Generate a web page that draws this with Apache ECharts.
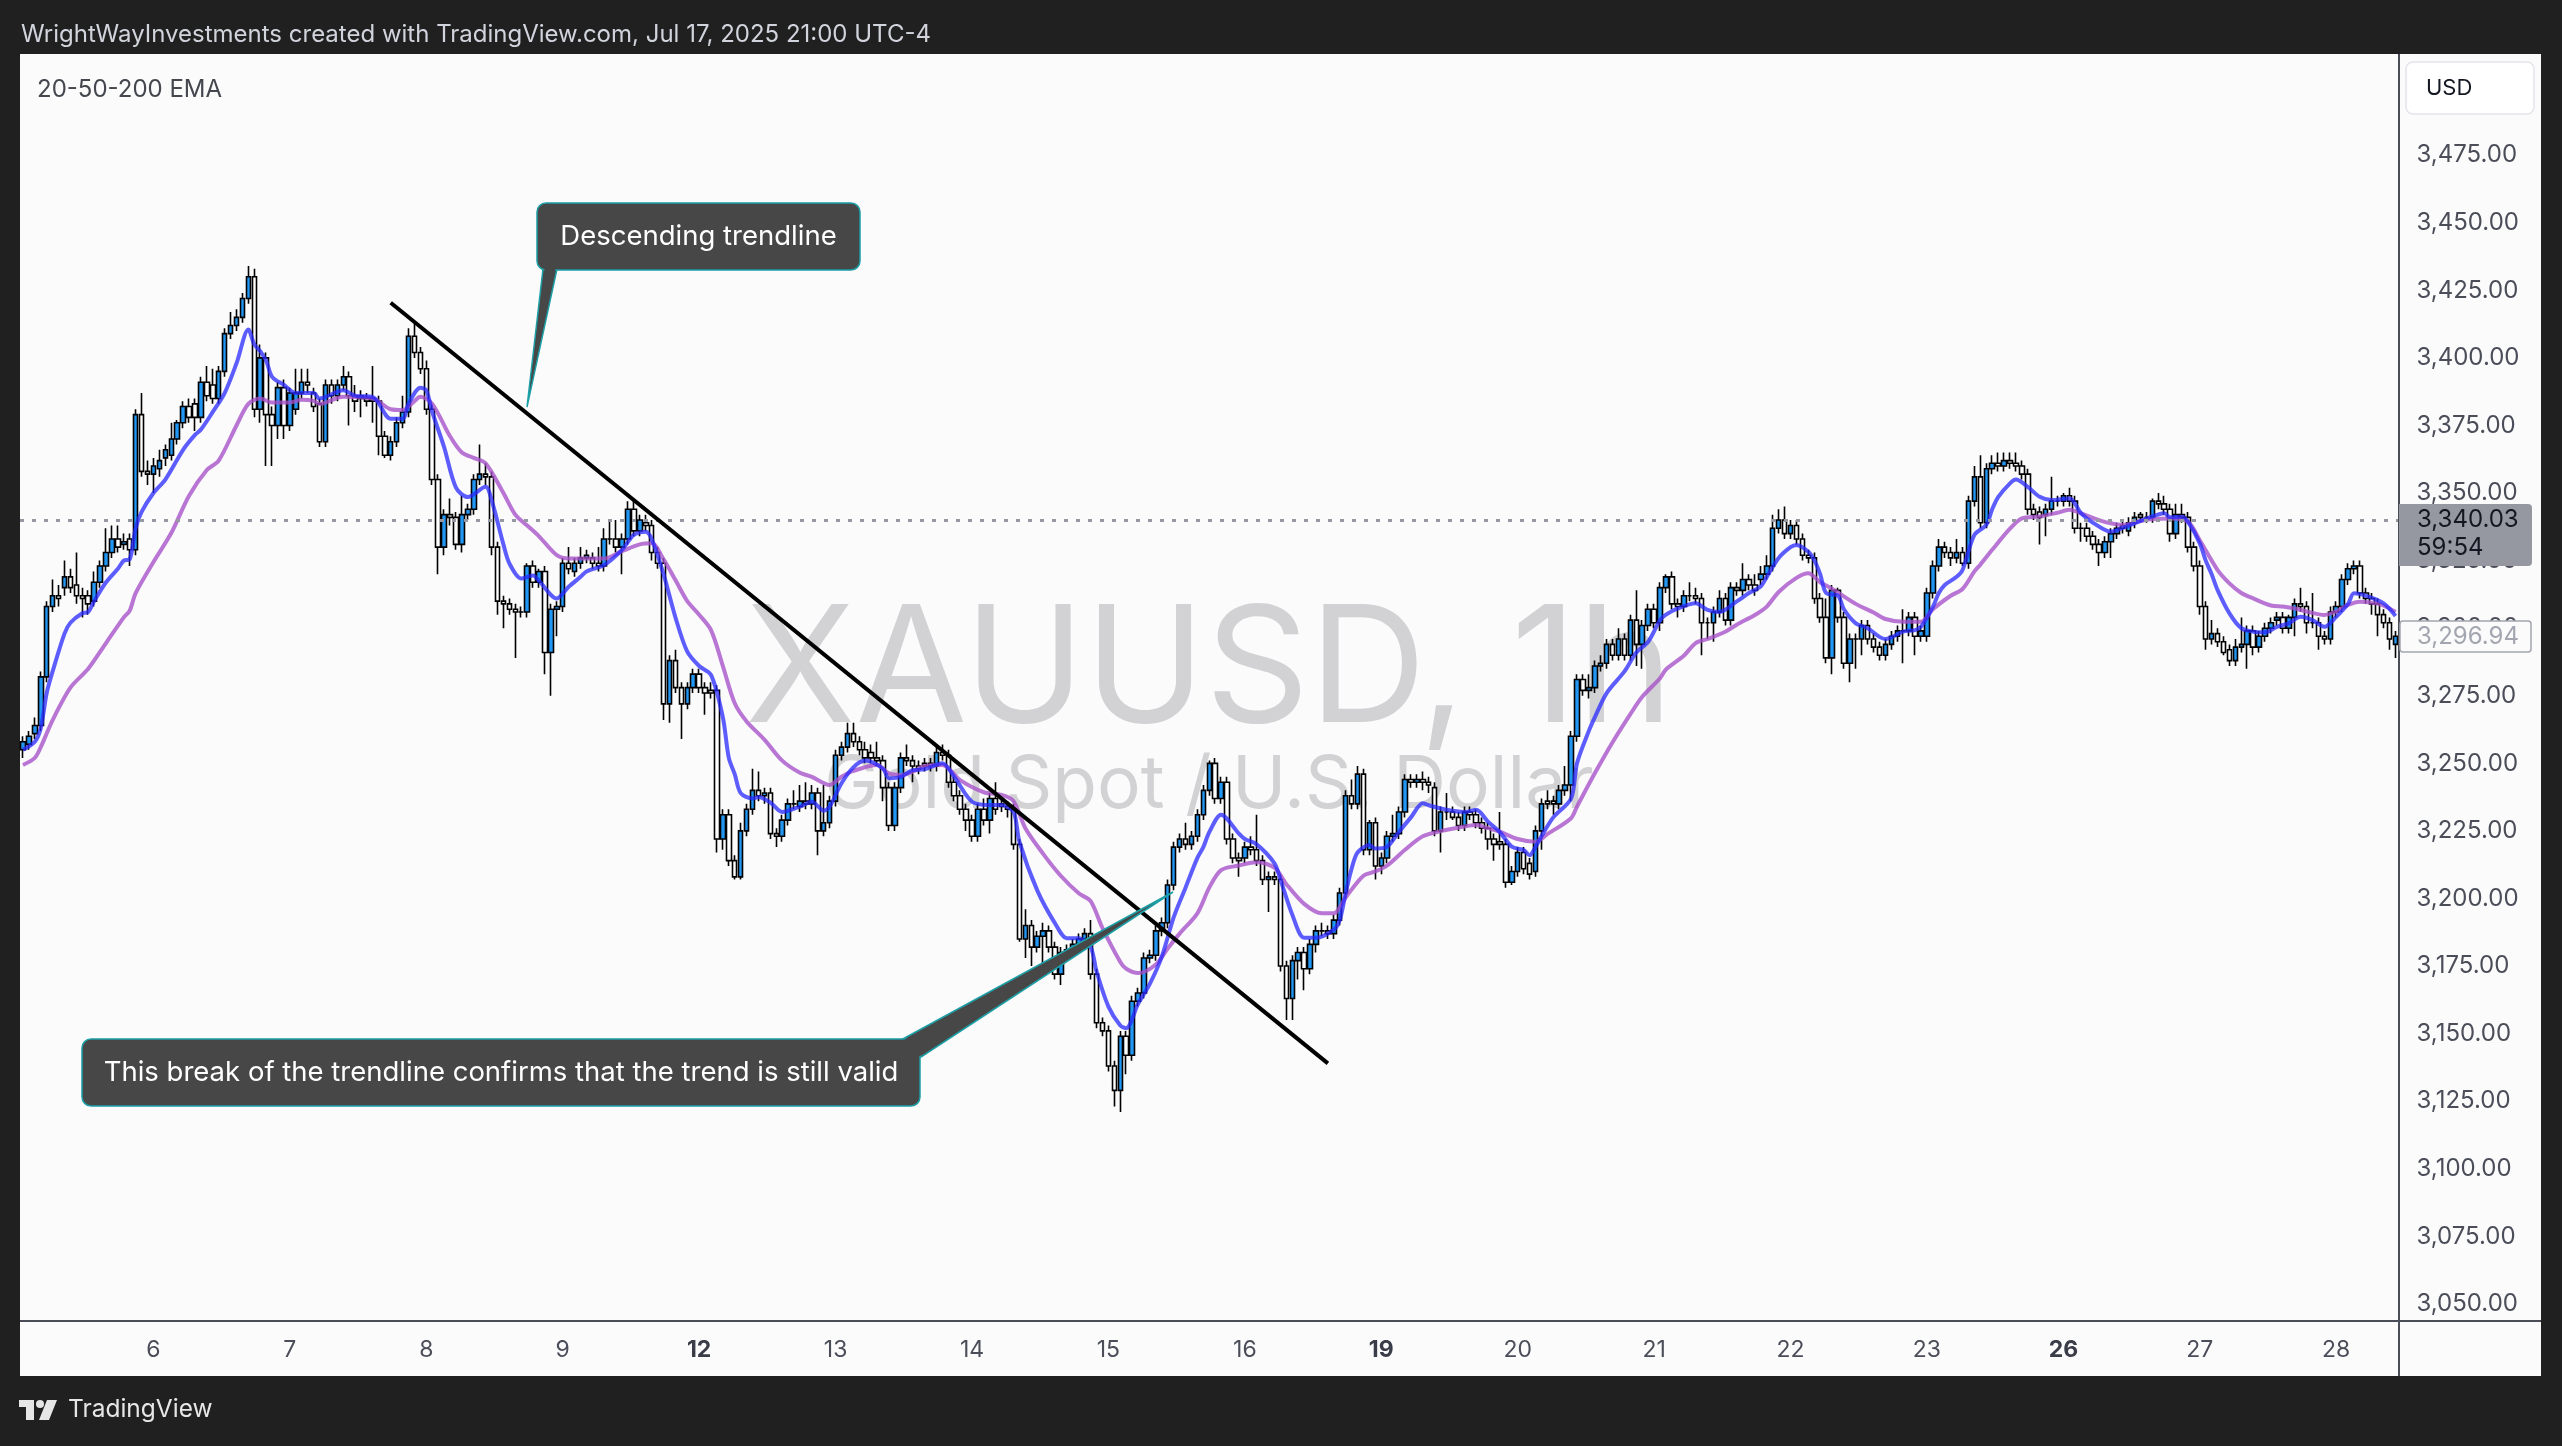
<!DOCTYPE html>
<html><head><meta charset="utf-8">
<script src="https://cdn.jsdelivr.net/npm/echarts@6/dist/echarts.min.js"></script>
<style>html,body{margin:0;padding:0;background:#202020;}#chart{width:2562px;height:1446px;}</style>
</head><body><div id="chart"></div>
<script>
// ---------------- data ----------------
const dayLabels = ['6','7','8','9','12','13','14','15','16','19','20','21','22','23','26','27','28'];
const boldDays = ['12','19','26'];
const firstBar = -22;      // index of first bar relative to the "6" label bar
const barsPerDay = 23;
const priceTicks = [3050,3075,3100,3125,3150,3175,3200,3225,3250,3275,3300,3325,3350,3375,3400,3425,3450,3475];
const lastPrice = 3340.03;
const countdown = '59:54';
const markedPrice = 3296.94;

// hourly candles [open, close, low, high]
const ohlc = [
// May 5
[3255,3258,3252,3260],[3257,3260,3255,3262],[3261,3264,3259,3267],[3264,3282,3262,3284],[3282,3308,3280,3310],[3308,3312,3306,3318],[3312,3311,3308,3316],[3315,3319,3312,3325],[3319,3315,3313,3322],[3316,3312,3309,3328],[3312,3311,3304,3315],[3312,3309,3305,3314],[3310,3317,3308,3321],[3317,3323,3315,3325],[3323,3328,3321,3337],[3328,3333,3326,3338],[3333,3330,3328,3338],[3331,3332,3329,3335],[3333,3329,3323,3335],[3329,3379,3327,3381],[3379,3358,3356,3387],[3358,3357,3353,3362],
// May 6
[3357,3360,3350,3363],[3359,3362,3356,3366],[3363,3366,3360,3368],[3364,3370,3362,3376],[3370,3376,3368,3377],[3376,3382,3374,3384],[3382,3378,3376,3385],[3383,3378,3373,3385],[3378,3391,3376,3393],[3391,3386,3384,3397],[3390,3385,3383,3396],[3385,3395,3383,3397],[3395,3409,3393,3411],[3409,3412,3407,3417],[3412,3415,3410,3418],[3415,3422,3413,3424],[3422,3430,3420,3434],[3430,3381,3378,3433],[3381,3400,3376,3405],[3400,3379,3360,3402],[3379,3375,3360,3382],[3375,3389,3370,3391],[3389,3375,3370,3392],
// May 7
[3375,3387,3373,3389],[3381,3387,3379,3396],[3387,3391,3385,3396],[3391,3390,3387,3396],[3387,3382,3380,3389],[3383,3369,3367,3385],[3369,3390,3367,3392],[3390,3386,3383,3392],[3386,3390,3384,3392],[3390,3393,3388,3397],[3393,3386,3375,3395],[3386,3384,3380,3390],[3385,3386,3378,3388],[3385,3384,3382,3387],[3384,3385,3376,3397],[3384,3371,3364,3386],[3371,3364,3363,3373],[3364,3369,3362,3371],[3369,3376,3367,3378],[3376,3380,3374,3386],[3380,3408,3378,3411],[3408,3402,3400,3413],[3402,3396,3394,3404],
// May 8
[3396,3381,3379,3399],[3381,3355,3353,3383],[3355,3330,3320,3357],[3330,3342,3327,3344],[3342,3341,3338,3348],[3341,3331,3329,3343],[3331,3342,3328,3349],[3342,3344,3340,3346],[3344,3355,3342,3357],[3355,3357,3353,3368],[3357,3356,3353,3361],[3356,3330,3327,3358],[3330,3310,3305,3332],[3310,3309,3300,3312],[3309,3307,3305,3311],[3307,3306,3289,3309],[3306,3306,3304,3308],[3306,3323,3304,3324],[3323,3317,3315,3325],[3317,3321,3315,3322],[3321,3291,3283,3323],[3291,3307,3275,3309],[3307,3308,3297,3310],
// May 9
[3308,3324,3306,3326],[3324,3322,3320,3330],[3321,3324,3319,3326],[3324,3326,3322,3330],[3326,3327,3324,3329],[3326,3324,3322,3328],[3324,3323,3321,3330],[3323,3333,3321,3337],[3333,3333,3331,3340],[3333,3330,3328,3340],[3330,3333,3320,3335],[3333,3344,3331,3347],[3344,3336,3334,3348],[3336,3340,3334,3342],[3339,3338,3336,3342],[3338,3328,3325,3340],[3328,3324,3322,3330],[3324,3272,3266,3326],[3272,3288,3265,3290],[3288,3278,3276,3292],[3278,3272,3259,3280],[3272,3278,3270,3280],[3278,3283,3276,3285],
// May 12
[3283,3278,3276,3285],[3278,3276,3268,3280],[3277,3276,3274,3280],[3277,3222,3217,3279],[3222,3231,3218,3233],[3231,3214,3212,3233],[3214,3208,3207,3216],[3208,3225,3207,3228],[3225,3233,3223,3235],[3233,3240,3231,3248],[3240,3238,3236,3247],[3238,3239,3235,3241],[3239,3224,3222,3241],[3224,3223,3219,3226],[3223,3229,3221,3231],[3229,3235,3227,3237],[3235,3235,3233,3240],[3234,3236,3232,3242],[3236,3235,3233,3243],[3235,3239,3233,3242],[3239,3225,3216,3241],[3225,3228,3223,3242],[3228,3236,3226,3238],
// May 13
[3236,3253,3234,3255],[3253,3256,3251,3258],[3256,3261,3254,3265],[3261,3258,3256,3265],[3258,3255,3253,3260],[3255,3252,3250,3258],[3254,3252,3250,3257],[3252,3251,3249,3258],[3251,3241,3236,3253],[3241,3227,3225,3243],[3227,3241,3225,3243],[3241,3252,3239,3254],[3252,3251,3249,3257],[3251,3249,3243,3253],[3249,3248,3246,3251],[3250,3249,3247,3252],[3250,3249,3247,3252],[3249,3254,3247,3256],[3254,3253,3251,3257],[3253,3243,3241,3255],[3243,3238,3236,3245],[3238,3233,3231,3240],[3233,3229,3225,3235],
// May 14
[3229,3223,3221,3231],[3223,3233,3221,3235],[3233,3229,3227,3237],[3229,3237,3224,3239],[3237,3233,3231,3243],[3235,3234,3232,3237],[3234,3233,3230,3236],[3233,3220,3218,3235],[3220,3185,3184,3222],[3185,3190,3178,3196],[3190,3182,3175,3192],[3182,3186,3180,3188],[3186,3188,3176,3191],[3188,3182,3180,3190],[3182,3172,3170,3184],[3172,3180,3168,3182],[3180,3181,3178,3183],[3181,3183,3179,3185],[3183,3185,3181,3187],[3185,3187,3183,3189],[3187,3172,3170,3192],[3172,3154,3152,3174],[3154,3151,3149,3156],
// May 15
[3151,3138,3136,3153],[3138,3129,3123,3140],[3129,3149,3121,3151],[3149,3142,3135,3151],[3142,3162,3140,3164],[3162,3165,3160,3167],[3165,3178,3163,3180],[3178,3179,3176,3181],[3179,3188,3177,3190],[3188,3191,3186,3193],[3191,3205,3189,3207],[3205,3219,3203,3221],[3219,3222,3217,3224],[3222,3220,3218,3228],[3220,3223,3218,3225],[3223,3231,3221,3233],[3231,3240,3229,3242],[3240,3250,3238,3251],[3250,3237,3235,3252],[3237,3243,3235,3245],[3243,3222,3220,3245],[3222,3215,3213,3224],[3215,3214,3208,3217],
// May 16
[3215,3219,3213,3221],[3219,3218,3216,3223],[3218,3214,3212,3231],[3214,3207,3205,3216],[3207,3208,3195,3210],[3208,3207,3205,3210],[3207,3175,3173,3209],[3175,3163,3155,3177],[3163,3177,3155,3179],[3177,3180,3170,3182],[3180,3174,3166,3182],[3174,3183,3172,3185],[3183,3188,3180,3190],[3188,3188,3186,3191],[3188,3187,3185,3190],[3187,3192,3185,3194],[3192,3202,3190,3204],[3202,3238,3200,3240],[3238,3235,3233,3244],[3235,3246,3233,3249],[3246,3218,3216,3248],[3218,3228,3216,3229],[3228,3212,3207,3230],
// May 19
[3212,3215,3209,3217],[3215,3223,3213,3225],[3223,3224,3221,3231],[3224,3232,3222,3234],[3232,3244,3230,3246],[3244,3243,3241,3246],[3243,3244,3241,3246],[3244,3243,3240,3247],[3243,3242,3239,3245],[3241,3225,3223,3243],[3225,3232,3217,3234],[3232,3232,3229,3239],[3232,3230,3229,3234],[3230,3227,3225,3232],[3227,3232,3225,3234],[3232,3231,3229,3234],[3231,3228,3226,3233],[3228,3226,3224,3230],[3226,3222,3218,3228],[3222,3220,3214,3224],[3221,3220,3218,3232],[3220,3206,3204,3222],[3206,3210,3205,3212],
// May 20
[3210,3217,3208,3219],[3217,3211,3209,3219],[3213,3209,3207,3215],[3210,3225,3208,3227],[3225,3235,3218,3237],[3236,3235,3233,3240],[3236,3235,3231,3238],[3235,3240,3233,3242],[3240,3242,3238,3249],[3242,3260,3236,3262],[3260,3281,3258,3283],[3281,3277,3275,3283],[3277,3278,3274,3283],[3278,3286,3276,3288],[3286,3287,3284,3290],[3287,3294,3285,3296],[3294,3290,3288,3296],[3290,3296,3288,3300],[3296,3290,3288,3298],[3290,3303,3288,3305],[3303,3294,3286,3314],[3294,3301,3285,3303],[3301,3307,3299,3309],
// May 21
[3307,3302,3300,3309],[3302,3315,3299,3317],[3315,3319,3313,3320],[3319,3309,3307,3321],[3309,3308,3304,3311],[3308,3312,3306,3314],[3312,3312,3310,3317],[3312,3311,3309,3315],[3311,3302,3290,3313],[3302,3302,3296,3304],[3302,3306,3295,3308],[3306,3311,3304,3314],[3311,3303,3301,3313],[3303,3315,3301,3317],[3315,3314,3312,3317],[3314,3318,3312,3324],[3318,3316,3314,3320],[3316,3314,3312,3320],[3318,3320,3316,3323],[3320,3323,3318,3327],[3323,3337,3321,3342],[3337,3340,3335,3344],[3340,3335,3333,3345],
// May 22
[3335,3338,3333,3340],[3338,3333,3331,3340],[3333,3327,3325,3335],[3327,3326,3324,3329],[3326,3311,3309,3328],[3311,3304,3302,3313],[3304,3289,3287,3311],[3289,3314,3283,3316],[3314,3304,3302,3315],[3304,3287,3285,3306],[3287,3296,3280,3298],[3296,3296,3285,3298],[3296,3301,3290,3303],[3301,3296,3294,3303],[3296,3293,3291,3298],[3293,3290,3288,3295],[3290,3294,3288,3296],[3294,3297,3292,3299],[3297,3299,3295,3301],[3299,3299,3287,3307],[3299,3304,3297,3306],[3304,3297,3290,3306],[3297,3299,3295,3301],
// May 23
[3297,3313,3295,3315],[3313,3323,3311,3325],[3323,3330,3321,3333],[3330,3328,3326,3332],[3328,3326,3323,3330],[3326,3328,3324,3333],[3328,3324,3323,3330],[3324,3347,3322,3349],[3347,3356,3345,3360],[3356,3339,3337,3364],[3339,3359,3337,3361],[3359,3361,3357,3364],[3361,3360,3358,3365],[3360,3362,3358,3365],[3362,3361,3359,3365],[3361,3360,3358,3365],[3360,3357,3355,3362],[3357,3344,3342,3359],[3344,3342,3340,3346],[3343,3341,3331,3345],[3342,3344,3334,3346],[3344,3347,3342,3356],[3347,3347,3345,3349],
// May 26
[3347,3349,3345,3350],[3349,3347,3345,3352],[3347,3337,3335,3349],[3337,3337,3332,3339],[3337,3334,3332,3339],[3334,3331,3329,3336],[3331,3328,3323,3333],[3328,3332,3326,3334],[3332,3335,3326,3337],[3335,3337,3333,3339],[3338,3337,3335,3340],[3336,3339,3334,3341],[3339,3341,3337,3343],[3342,3341,3339,3343],[3341,3341,3339,3343],[3341,3347,3339,3348],[3347,3346,3344,3350],[3346,3344,3342,3349],[3344,3335,3332,3346],[3335,3342,3333,3346],[3342,3341,3339,3346],[3341,3330,3328,3343],[3330,3323,3321,3332],
// May 27
[3323,3308,3305,3325],[3308,3296,3292,3310],[3296,3298,3294,3303],[3298,3295,3293,3300],[3295,3291,3290,3297],[3292,3288,3286,3294],[3288,3293,3286,3296],[3293,3294,3291,3304],[3294,3299,3285,3301],[3299,3293,3290,3301],[3293,3297,3291,3299],[3297,3300,3295,3302],[3300,3302,3298,3304],[3303,3304,3301,3306],[3304,3300,3298,3306],[3300,3304,3298,3305],[3304,3309,3297,3311],[3309,3308,3306,3315],[3308,3302,3298,3310],[3302,3302,3300,3313],[3302,3297,3292,3304],[3297,3296,3294,3299],[3296,3306,3294,3308],
// May 28
[3306,3308,3304,3310],[3308,3318,3306,3320],[3318,3322,3316,3324],[3322,3323,3320,3325],[3323,3313,3311,3325],[3313,3311,3309,3315],[3311,3309,3305,3313],[3309,3305,3297,3311],[3305,3302,3300,3307],[3302,3296,3292,3304],[3294,3297,3289,3299]
];

// EMA readings [bar index relative to "6" label, value]
const ema20 = [
[-22,3255],[-20,3258],[-19,3263],[-18,3276],[-17,3284],[-15,3298],[-14,3302],[-12,3305.5],[-11,3306],[-10,3310],[-8,3317],[-6,3322],[-5,3325],[-4,3325.5],[-3,3337],[-2,3343],[0,3350],[2,3355],[5,3366],[7,3371.5],[8,3373.5],[10,3380],[12,3387],[14,3398],[16,3410.5],[17,3405],[18,3402.5],[19,3399],[20,3393],[22,3390],[24,3387],[27,3387],[28,3385],
[32,3388],[34,3386],[37,3385.5],[40,3377.5],[42,3377.5],[43,3383],[45,3389],[46,3388],[47,3380],[49,3367],[51,3352],[53,3348.5],[56,3352.3],[57,3347.5],[59,3331],[60,3324],[62,3318.4],[64,3319.5],[65,3317.5],[68,3311],[70,3315.3],[72,3319],[73,3321],[76,3323.4],[79,3329],
[81,3334.5],[83,3335.7],[84,3333],[86,3320],[88,3304],[90,3291.3],[92,3286],[94,3282.7],[96,3267],[97,3252],[98,3246],[99,3239],[101,3237],[102,3237.5],[104,3235.5],[106,3232],[109,3234],[111,3235.8],[113,3232.5],[114,3234],[116,3242.6],[118,3248.5],[120,3251],[123,3248],[124,3244.5],[126,3245],[128,3247.5],
[130,3247.8],[133,3250],[135,3245],[138,3235.8],[141,3234.6],[143,3234.6],[145,3232],[146,3221],[149,3203],[152,3190.8],[154,3185.3],[156,3185.3],[158,3182],[159,3173],[161,3160],[163,3153],[164,3152],[166,3161],[168,3168.5],[170,3178.5],[172,3193],[174,3204],[176,3215],[177,3219],[178,3224.5],[180,3231],
[183,3224],[184,3222],[186,3220],[189,3213],[190,3207],[192,3194],[194,3185.5],[196,3185.5],[199,3188.5],[200,3192],[201,3202],[202,3211],[203,3217],[205,3219.8],[206,3218.5],[208,3219.2],[210,3224.7],[212,3230],[214,3235.2],[215,3234.5],[218,3232.8],[221,3232],[223,3232.8],[225,3228.4],[227,3224.5],[229,3219.2],[231,3217.9],
[232,3216],[233,3219],[234,3223],[236,3230],[239,3237],[240,3250],[242,3262],[243,3267],[245,3276],[248,3284],[250,3291],[252,3295],[254,3303],[255,3305],[257,3307.3],[260,3309.2],[262,3306.8],[264,3306],[267,3310],[269,3313],[271,3315.5],[272,3319],[274,3326],[276,3330],[277,3330.8],[279,3328.3],[280,3325.2],[281,3320],
[282,3313],[284,3312],[285,3307],[287,3301.8],[289,3300],[291,3296.8],[292,3296],[295,3298.7],[297,3299.3],[298,3300.5],[300,3307.9],[301,3313],[302,3316],[304,3319],[305,3321.5],[307,3334.5],[309,3338.2],[310,3344],[311,3348.5],[313,3353.6],[314,3355],[316,3352.3],[318,3348.6],[320,3347.4],[323,3348],[325,3342.5],[327,3339],[330,3335.7],[331,3336.3],
[334,3338.8],[336,3340.5],[339,3342.5],[340,3341],[342,3341.2],[343,3339.4],[345,3331.4],[346,3325],[347,3320],[348,3314.1],[350,3305.5],[352,3300],[354,3298.7],[356,3298.5],[358,3300.5],[360,3301.8],[362,3304.2],[364,3303],[366,3300.5],[368,3304.2],[370,3309],[371,3312.9],[373,3312],[376,3309.2],[378,3304.5]
];
const ema50 = [
[-22,3249.4],[-20,3252],[-19,3256],[-17,3266],[-14,3278],[-11,3285],[-8,3294.5],[-5,3304],[-4,3306.5],[-3,3313],[0,3324.5],[3,3335.2],[6,3349],[9,3358.5],[11,3362],[14,3375],[16,3383],[18,3385],[20,3383.5],[23,3383.5],[25,3384.5],[27,3384.1],[28,3383],
[32,3385.6],[37,3385],[40,3381],[42,3380.7],[44,3384],[45,3385.6],[47,3383],[50,3371],[52,3365],[54,3363],[56,3361],[59,3350],[61,3342],[63,3338],[65,3334],[68,3327],[70,3325.8],[73,3325.8],[76,3325.8],[79,3328.5],
[82,3331],[84,3331.4],[86,3325.5],[88,3317.8],[90,3310],[92,3305],[94,3299.3],[96,3286],[98,3272.2],[100,3265.5],[103,3258.8],[106,3251],[109,3246.5],[111,3245],[114,3242],[116,3245],[118,3247.2],[122,3249.4],[124,3246.3],[126,3245.7],[128,3246.9],
[130,3249],[133,3249.4],[136,3243.8],[140,3239.3],[143,3238.3],[145,3236],[147,3226],[150,3216.5],[153,3208.3],[156,3201.9],[158,3199],[160,3189],[163,3176.5],[164,3174],[166,3172.4],[169,3175.6],[171,3181.5],[173,3187],[176,3194.5],[178,3204],[180,3210.5],
[183,3212.2],[186,3213.4],[189,3211.4],[191,3205.3],[194,3198],[197,3194.5],[199,3194.5],[201,3200.4],[204,3208.4],[206,3210],[208,3212.2],[211,3218],[214,3223],[217,3224.9],[219,3225.8],[223,3227.2],[225,3226],[227,3224.7],[230,3222],
[233,3221],[235,3223.8],[239,3229.7],[240,3234],[243,3246.3],[246,3257.8],[249,3268.2],[251,3274.6],[254,3281.5],[255,3284.7],[258,3289.8],[260,3294.5],[262,3296],[265,3298.7],[267,3301.4],[270,3304.9],[272,3308],[274,3313.4],[277,3318.6],[279,3320.3],[281,3317],
[283,3314.6],[287,3309],[290,3305.8],[292,3303.4],[295,3302.4],[298,3302.4],[300,3307],[303,3312],[305,3314.5],[307,3321],[308,3323.5],[310,3329],[313,3336.8],[315,3340.6],[318,3341.3],[321,3342.7],[323,3343.8],[326,3341.6],[328,3340],[330,3338.8],[332,3338.2],
[335,3339.6],[337,3340.4],[340,3340.6],[343,3339.4],[345,3332.5],[348,3321.5],[350,3316.6],[352,3313],[354,3311],[357,3308.4],[359,3308],[361,3307.3],[363,3306.2],[366,3304.9],[368,3306.2],[370,3308.6],[372,3309.8],[375,3309.1],[377,3307.3],[378,3306]
];
// descending trendline endpoints [bar index, price]
const trendline = [[40,3420.4],[198,3139]];

// ---------------- chart ----------------
const FONT = 'Inter, "Noto Sans", Roboto, sans-serif';
const chart = echarts.init(document.getElementById('chart'), null, {width: 2562, height: 1446});
const categories = ohlc.map((_, j) => String(j + firstBar));
const toJ = pts => pts.map(([i, v]) => [i - firstBar, v]);
const fmt = v => v.toLocaleString('en-US', {minimumFractionDigits: 2, maximumFractionDigits: 2});
const isDayStart = j => { const i = j + firstBar; return i >= 0 && i % barsPerDay === 0; };

const FILL = '#474747', EDGE = '#1d9fa6';
function callout(box, tail, text, fs) {
  const [x, y, w, h] = box;
  const [b1, b2, tip] = tail;
  const mx = (b1[0] + b2[0]) / 2, my = (b1[1] + b2[1]) / 2;
  const shrink = (p, t) => [p[0] + (mx - p[0]) * t, p[1] + (my - p[1]) * t];
  const ux = (b2[0] - b1[0]), uy = (b2[1] - b1[1]), L = Math.hypot(ux, uy);
  const p1 = [b1[0] + ux / L * 1.6, b1[1] + uy / L * 1.6], p2 = [b2[0] - ux / L * 1.6, b2[1] - uy / L * 1.6];
  return [
    {type: 'polygon', z: 20, silent: true, shape: {points: [b1, b2, tip]}, style: {fill: FILL, stroke: EDGE, lineWidth: 1.5}},
    {type: 'rect', z: 21, silent: true, shape: {x, y, width: w, height: h, r: 9}, style: {fill: FILL, stroke: EDGE, lineWidth: 1.5}},
    {type: 'polygon', z: 22, silent: true, shape: {points: [p1, p2, shrink(tip, 0.12)]}, style: {fill: FILL}},
    {type: 'text', z: 23, silent: true, x: x + w / 2, y: y + h / 2, style: {text, fill: '#ffffff', font: fs + 'px ' + FONT, align: 'center', verticalAlign: 'middle'}}
  ];
}

const staticGraphic = [
  {type: 'rect', z: -10, silent: true, shape: {x: 20, y: 54, width: 2521, height: 1322}, style: {fill: '#fbfbfc'}},
  {type: 'text', z: -5, silent: true, x: 1209, y: 673, style: {text: 'XAUUSD, 1h', fill: '#d2d2d4', font: '162px ' + FONT, align: 'center', verticalAlign: 'middle'}},
  {type: 'text', z: -5, silent: true, x: 1209, y: 786, style: {text: 'Gold Spot / U.S. Dollar', fill: '#d2d2d4', font: '73px ' + FONT, align: 'center', verticalAlign: 'middle'}},
  {type: 'line', z: 8, silent: true, shape: {x1: 2399, y1: 54, x2: 2399, y2: 1376}, style: {stroke: '#4a4d57', lineWidth: 2}},
  {type: 'line', z: 8, silent: true, shape: {x1: 20, y1: 1321, x2: 2541, y2: 1321}, style: {stroke: '#4a4d57', lineWidth: 2}},
  {type: 'text', silent: true, x: 21, y: 35, style: {text: 'WrightWayInvestments created with TradingView.com, Jul 17, 2025 21:00 UTC-4', fill: '#d1d4dc', font: '24px ' + FONT, verticalAlign: 'middle'}},
  {type: 'text', silent: true, x: 37, y: 90, style: {text: '20-50-200 EMA', fill: '#45474f', font: '24px ' + FONT, verticalAlign: 'middle'}},
  {type: 'rect', z: 9, silent: true, shape: {x: 2406, y: 62, width: 128, height: 52, r: 7}, style: {fill: '#ffffff', stroke: '#e3e5ea', lineWidth: 1.5}},
  {type: 'text', z: 10, silent: true, x: 2426, y: 88, style: {text: 'USD', fill: '#131722', font: '22px ' + FONT, verticalAlign: 'middle'}},
  // TradingView logo + name
  {type: 'rect', silent: true, shape: {x: 19, y: 1400, width: 15, height: 7}, style: {fill: '#e6e6e6'}},
  {type: 'rect', silent: true, shape: {x: 26, y: 1400, width: 8, height: 20}, style: {fill: '#e6e6e6'}},
  {type: 'circle', silent: true, shape: {cx: 40, cy: 1404, r: 4}, style: {fill: '#e6e6e6'}},
  {type: 'polygon', silent: true, shape: {points: [[47, 1400], [57, 1400], [49, 1420], [39, 1420]]}, style: {fill: '#e6e6e6'}},
  {type: 'text', silent: true, x: 68, y: 1410, style: {text: 'TradingView', fill: '#e6e6e6', font: '24.5px ' + FONT, verticalAlign: 'middle'}},
  ...callout([537, 203, 323, 67], [[543, 269], [557, 269], [527, 407]], 'Descending trendline', 27.5),
  ...callout([82, 1039, 838, 67], [[901, 1040], [921, 1057], [1173, 892]], 'This break of the trendline confirms that the trend is still valid', 27.5)
];

const option = {
  backgroundColor: '#202020',
  animation: false,
  grid: {left: 20, right: 163.5, top: 54, bottom: 125},
  xAxis: {
    type: 'category', data: categories, boundaryGap: true,
    axisLine: {show: false}, axisTick: {show: false}, splitLine: {show: false},
    axisLabel: {
      interval: (idx) => isDayStart(idx),
      formatter: (val) => { const lbl = dayLabels[Number(val) / barsPerDay]; return boldDays.includes(lbl) ? '{b|' + lbl + '}' : lbl; },
      color: '#4b4e59', fontFamily: FONT, fontSize: 23, margin: 18,
      rich: {b: {fontWeight: 'bold', fontSize: 23, color: '#3a3d47', fontFamily: FONT}}
    }
  },
  yAxis: {
    type: 'value', position: 'right', min: 3043.67, max: 3512.44, scale: true,
    axisLine: {show: false}, axisTick: {show: false}, splitLine: {show: false},
    axisLabel: {customValues: priceTicks, formatter: v => fmt(v), color: '#4b4e59', fontFamily: FONT, fontSize: 24, margin: 18, align: 'left'}
  },
  series: [
    {type: 'candlestick', name: 'XAUUSD', data: ohlc, barWidth: 5, z: 2,
     itemStyle: {color: '#2196f3', color0: '#ffffff', borderColor: '#000000', borderColor0: '#000000', borderWidth: 1.6},
     markLine: {silent: true, symbol: ['none', 'none'], label: {show: false}, animation: false,
       lineStyle: {color: '#9598a1', width: 3, type: [4, 8]}, data: [{yAxis: lastPrice}]}},
    {type: 'line', name: 'EMA 50', data: toJ(ema50), showSymbol: false, smooth: 0.3, z: 3,
     lineStyle: {color: 'rgba(165,80,200,0.78)', width: 4}},
    {type: 'line', name: 'EMA 20', data: toJ(ema20), showSymbol: false, smooth: 0.3, z: 4,
     lineStyle: {color: 'rgba(40,40,255,0.75)', width: 4}},
    {type: 'line', name: 'Trendline', data: toJ(trendline), showSymbol: false, z: 5,
     lineStyle: {color: '#000000', width: 4}}
  ],
  graphic: staticGraphic
};
chart.setOption(option);

// price labels on the axis, positioned through the y scale
const yLast = chart.convertToPixel({yAxisIndex: 0}, lastPrice);
const yMark = chart.convertToPixel({yAxisIndex: 0}, markedPrice);
chart.setOption({graphic: staticGraphic.concat([
  {type: 'rect', z: 30, silent: true, shape: {x: 2399, y: yLast - 16, width: 133, height: 62, r: [0, 4, 4, 0]}, style: {fill: '#9598a1'}},
  {type: 'text', z: 31, silent: true, x: 2417, y: yLast, style: {text: fmt(lastPrice), fill: '#131722', font: '24px ' + FONT, verticalAlign: 'middle'}},
  {type: 'text', z: 31, silent: true, x: 2417, y: yLast + 28, style: {text: countdown, fill: '#131722', font: '24px ' + FONT, verticalAlign: 'middle'}},
  {type: 'rect', z: 30, silent: true, shape: {x: 2400, y: yMark - 15.5, width: 131, height: 31, r: 3}, style: {fill: '#fbfbfc', stroke: '#a3a6af', lineWidth: 1.5}},
  {type: 'text', z: 31, silent: true, x: 2417, y: yMark, style: {text: fmt(markedPrice), fill: '#a3a6af', font: '24px ' + FONT, verticalAlign: 'middle'}}
])});
</script>
</body></html>
